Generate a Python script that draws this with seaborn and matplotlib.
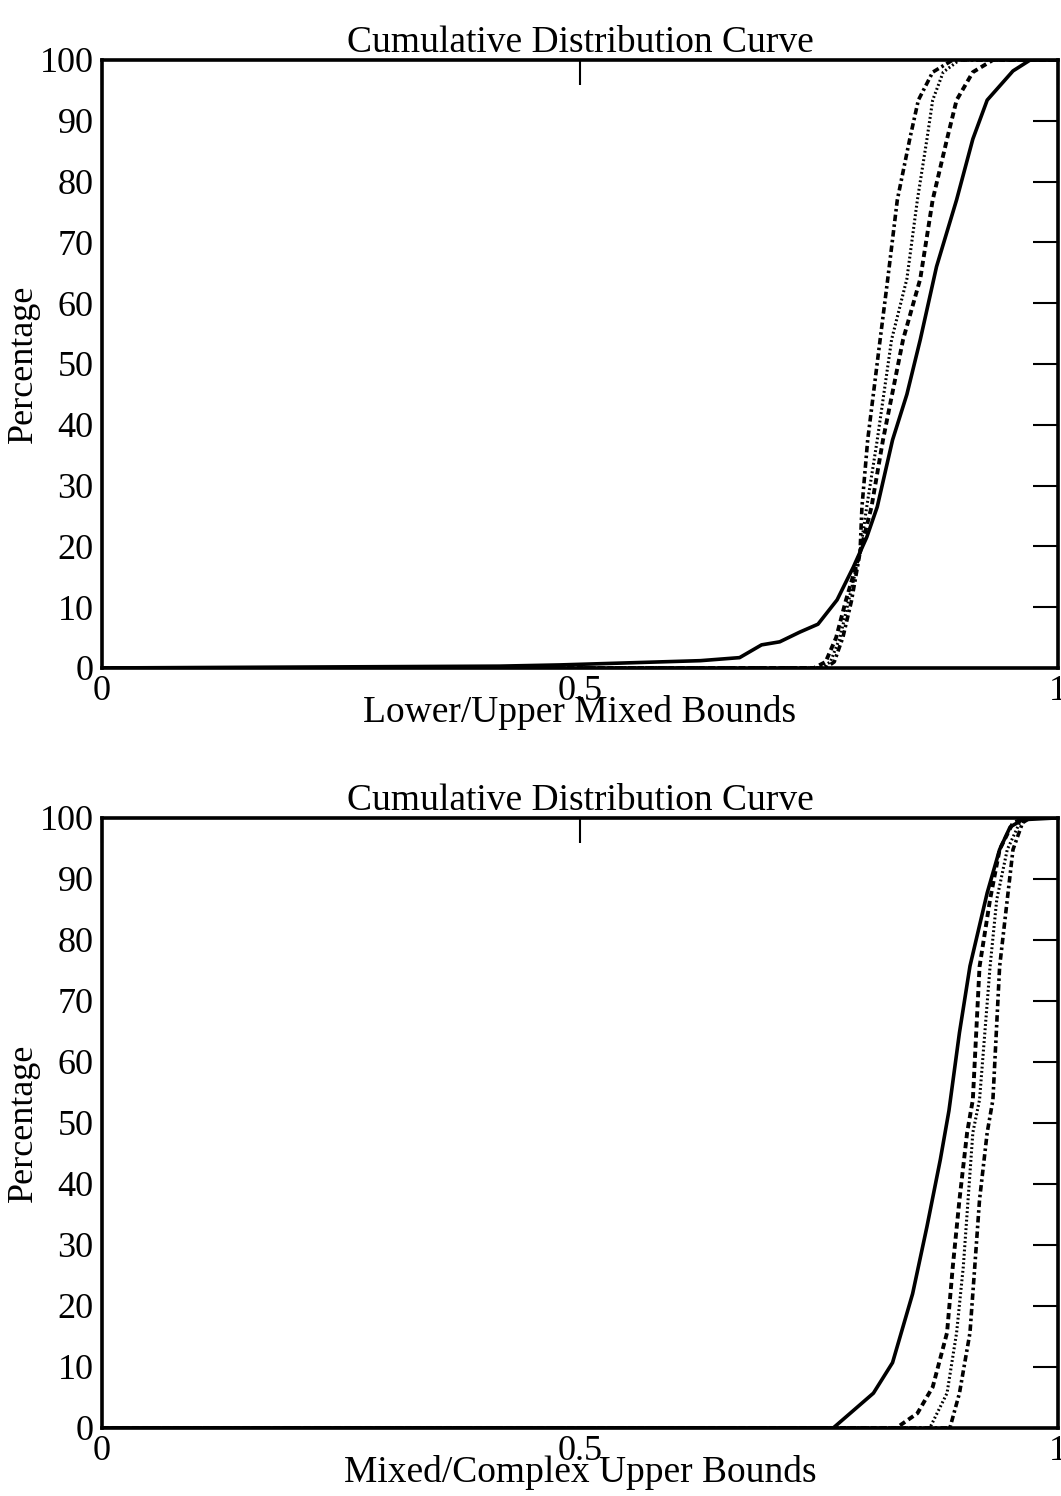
import numpy as np
import pandas as pd
import seaborn as sns
import matplotlib.pyplot as plt

# top panel: Lower/Upper Mixed Bounds
top_solid_x = [0, 0.416, 0.479, 0.542, 0.584, 0.626, 0.667, 0.690, 0.709, 0.730, 0.749, 0.769, 0.786, 0.800, 0.811, 0.827, 0.842, 0.856, 0.873, 0.894, 0.911, 0.926, 0.953, 0.971, 1.0]
top_solid_y = [0, 0.3, 0.5, 0.8, 1.0, 1.2, 1.7, 3.8, 4.3, 5.9, 7.2, 11.2, 16.6, 21.5, 26.5, 37.5, 45, 54, 66, 77, 87, 93.4, 98.2, 100, 100]
top_dash_x = [0, 0.745, 0.757, 0.768, 0.778, 0.793, 0.805, 0.817, 0.838, 0.856, 0.869, 0.884, 0.894, 0.911, 0.932, 1.0]
top_dash_y = [0, 0, 1, 5, 11, 19, 26.5, 37.5, 54, 64, 77, 87, 93.4, 98, 100, 100]
top_dot_x = [0, 0.752, 0.762, 0.772, 0.781, 0.793, 0.800, 0.811, 0.826, 0.842, 0.853, 0.863, 0.869, 0.880, 0.897, 1.0]
top_dot_y = [0, 0, 1, 5, 11, 19, 26.5, 37.5, 54, 64, 77, 87, 93.4, 98, 100, 100]
top_dashdot_x = [0, 0.757, 0.766, 0.775, 0.784, 0.793, 0.795, 0.801, 0.814, 0.822, 0.832, 0.845, 0.854, 0.869, 0.890, 1.0]
top_dashdot_y = [0, 0, 1, 5, 11, 19, 26.5, 37.5, 54, 64, 77, 87, 93.4, 98, 100, 100]

# bottom panel: Mixed/Complex Upper Bounds
bot_solid_x = [0, 0.765, 0.807, 0.827, 0.848, 0.863, 0.877, 0.886, 0.897, 0.908, 0.926, 0.939, 0.950, 0.963, 1.0]
bot_solid_y = [0, 0, 5.7, 10.7, 22, 33, 44, 52, 64.8, 75.7, 87.7, 94.8, 98.5, 99.7, 100]
bot_dash_x = [0, 0.831, 0.853, 0.869, 0.884, 0.890, 0.897, 0.905, 0.911, 0.918, 0.929, 0.939, 0.953, 0.967, 1.0]
bot_dash_y = [0, 0, 2.4, 6.7, 15.6, 26.4, 37.4, 48.4, 53.8, 75.6, 86.6, 94.8, 99.2, 100, 100]
bot_dot_x = [0, 0.866, 0.884, 0.894, 0.901, 0.906, 0.911, 0.918, 0.929, 0.936, 0.947, 0.960, 0.971, 1.0]
bot_dot_y = [0, 0, 5.7, 15.6, 26.4, 37.4, 48.4, 53.8, 75.6, 86.6, 94.8, 99.2, 100, 100]
bot_dashdot_x = [0, 0.887, 0.897, 0.908, 0.913, 0.918, 0.926, 0.932, 0.939, 0.947, 0.953, 0.963, 0.971, 1.0]
bot_dashdot_y = [0, 0, 5.7, 15.6, 26.4, 37.4, 48.4, 53.8, 75.6, 86.6, 94.8, 99.2, 100, 100]

panels = [
    ("Lower/Upper Mixed Bounds", [(top_solid_x, top_solid_y), (top_dash_x, top_dash_y), (top_dot_x, top_dot_y), (top_dashdot_x, top_dashdot_y)]),
    ("Mixed/Complex Upper Bounds", [(bot_solid_x, bot_solid_y), (bot_dash_x, bot_dash_y), (bot_dot_x, bot_dot_y), (bot_dashdot_x, bot_dashdot_y)]),
]
styles = [(None, 2.6), ((1.6, 1.0), 2.8), ((0.6, 0.8), 2.2), ((1.8, 0.9, 0.7, 0.9), 2.6)]

sns.set_style("white")
plt.rcParams['font.family'] = ['Liberation Serif', 'DejaVu Serif']
plt.rcParams['text.color'] = 'black'
plt.rcParams['axes.labelcolor'] = 'black'
plt.rcParams['xtick.color'] = 'black'
plt.rcParams['ytick.color'] = 'black'

fig = plt.figure(figsize=(10.61, 14.96), dpi=100)
boxes = [[0.0961, 0.5535, 0.901, 0.4064], [0.0961, 0.0455, 0.901, 0.4078]]

for box, (xlab, series) in zip(boxes, panels):
    ax = fig.add_axes(box)
    for (xs, ys), (dash, lw) in zip(series, styles):
        df = pd.DataFrame({"x": xs, "y": ys})
        sns.lineplot(data=df, x="x", y="y", ax=ax, color="black", lw=lw, sort=False, estimator=None)
        l = ax.lines[-1]
        if dash is not None:
            l.set_dashes(dash)
    ax.set_xlim(0, 1)
    ax.set_ylim(0, 100)
    ax.set_xticks([0, 0.5, 1])
    ax.set_xticklabels(["0", "0.5", "1"])
    ax.set_yticks(np.arange(0, 101, 10))
    ax.tick_params(direction="in", length=18, width=1.5, labelsize=26, top=True, right=True)
    ax.tick_params(axis="y", pad=6)
    ax.tick_params(axis="x", pad=5)
    for s in ax.spines.values():
        s.set_linewidth(2.6)
        s.set_color("black")
    ax.set_title("Cumulative Distribution Curve", fontsize=27, pad=6)
    ax.set_xlabel(xlab, fontsize=27, labelpad=-9)
    ax.set_ylabel("Percentage", fontsize=26, labelpad=0)

plt.savefig("out.png", dpi=100)
